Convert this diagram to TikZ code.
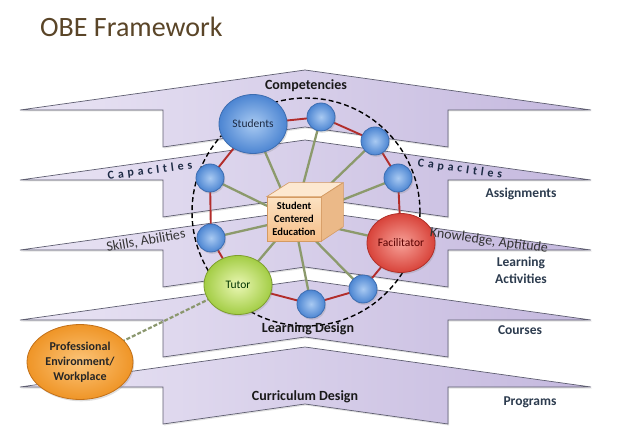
\documentclass[tikz,border=0pt]{standalone}
\usepackage{fontspec}
\setmainfont{Carlito}
\usetikzlibrary{shapes.geometric,shadows}
\definecolor{bandL}{HTML}{E9E4F4}
\definecolor{bandR}{HTML}{C4B8DE}
\definecolor{bandline}{HTML}{5E5E70}
\definecolor{titlec}{HTML}{5A4528}
\definecolor{slate}{HTML}{2C3B4E}
\definecolor{navy}{HTML}{1C2A44}
\definecolor{blueIn}{HTML}{A9CAF2}
\definecolor{blueOut}{HTML}{4C85D2}
\definecolor{blueLine}{HTML}{3D6DB0}
\definecolor{redIn}{HTML}{F7A198}
\definecolor{redOut}{HTML}{D8433A}
\definecolor{redLine}{HTML}{B0302A}
\definecolor{grnIn}{HTML}{EAF7B4}
\definecolor{grnOut}{HTML}{A3CD45}
\definecolor{grnLine}{HTML}{7E9F2E}
\definecolor{orIn}{HTML}{FCC57A}
\definecolor{orOut}{HTML}{EF9527}
\definecolor{orLine}{HTML}{C27018}
\definecolor{ring}{HTML}{B22D2B}
\definecolor{spoke}{HTML}{8C9A6C}
\definecolor{boxline}{HTML}{D49A62}
\definecolor{boxTop}{HTML}{FDE8D0}
\definecolor{boxFrontT}{HTML}{FCE2C2}
\definecolor{boxFrontB}{HTML}{F6BE88}
\definecolor{boxSide}{HTML}{EBB988}
\newcommand\lsp{\hspace{3.8pt}}
\newcommand\capword{C\lsp a\lsp p\lsp a\lsp c\lsp I\lsp t\lsp l\lsp e\lsp s}
\pgfdeclarelayer{bg}
\pgfdeclarelayer{lines}
\pgfsetlayers{bg,lines,main}
\begin{document}
\begin{tikzpicture}[x=1pt,y=-1pt,
  band/.style={draw=bandline, line width=0.7pt, left color=bandL, right color=bandR,
    drop shadow={opacity=0.22,shadow xshift=1pt,shadow yshift=-1.5pt}},
  nshadow/.style={drop shadow={opacity=0.25,shadow xshift=1.2pt,shadow yshift=-1.8pt}},
  smallball/.style={circle, draw=blueLine, line width=0.8pt, shading=radial,
    inner color=blueIn, outer color=blueOut, minimum size=28pt, inner sep=0pt, nshadow},
  bigball/.style={ellipse, line width=0.8pt, shading=radial, minimum width=68pt,
    minimum height=59pt, inner sep=0pt, nshadow, font=\fontsize{11.5}{13}\selectfont},
  ringline/.style={draw=ring, line width=1.9pt},
  spokeline/.style={draw=spoke, line width=2.3pt},
  bandlab/.style={anchor=base, font=\bfseries\fontsize{14}{16}\selectfont, text=black!90},
  sidelab/.style={anchor=base, font=\bfseries\fontsize{13.5}{17}\selectfont, text=slate, align=center},
  slantlab/.style={font=\fontsize{14}{16}\selectfont, text=black!80},
  caplab/.style={font=\bfseries\fontsize{12}{14}\selectfont, text=navy}
]
\useasboundingbox (0,0) rectangle (636,430);

% title
\node[anchor=base west, font=\fontsize{28}{32}\selectfont, text=titlec, inner sep=0pt] (title) at (40,37) {OBE Framework};

% bands
\begin{pgfonlayer}{bg}
\foreach \T in {110,180,250,320,387} {
  \path[band] (20,\T) -- (305,\T-40) -- (591,\T) -- (448,\T) -- (448,\T+37)
    -- (305,\T+17) -- (163,\T+37) -- (163,\T) -- cycle;
}
\end{pgfonlayer}

% centre box
\node[draw=boxline, line width=0.6pt, top color=boxFrontT, bottom color=boxFrontB,
  minimum width=54pt, minimum height=44pt, inner sep=0pt,
  font=\bfseries\fontsize{10.5}{12.7}\selectfont, align=center] (sce) at (294,219)
  {Student\\Centered\\Education};
\filldraw[fill=boxTop, draw=boxline, line width=0.6pt] (sce.north west) -- ++(22,-14) -- ++(54,0) -- (sce.north east) -- cycle;
\filldraw[fill=boxSide, draw=boxline, line width=0.6pt] (sce.north east) -- ++(22,-14) -- ++(0,44) -- (sce.south east) -- cycle;

% big nodes
\node[bigball, draw=blueLine, inner color=blueIn, outer color=blueOut, text=navy] (stu) at (253,124) {Students};
\node[bigball, draw=redLine, inner color=redIn, outer color=redOut, text=red!35!black] (fac) at (401,243) {Facilitator};
\node[bigball, draw=grnLine, inner color=grnIn, outer color=grnOut, text=green!20!black] (tut) at (238,285) {Tutor};

% small nodes
\node[smallball] (a) at (321,117) {};
\node[smallball] (b) at (375,141) {};
\node[smallball] (c) at (398,178) {};
\node[smallball] (g) at (363,289) {};
\node[smallball] (f) at (311,304) {};
\node[smallball] (e) at (211,238) {};
\node[smallball] (d) at (210,178) {};

% professional ellipse
\node[ellipse, draw=orLine, line width=0.8pt, shading=radial, inner color=orIn, outer color=orOut,
  minimum width=106pt, minimum height=75pt, inner sep=0pt, nshadow, align=center,
  font=\bfseries\fontsize{12}{15}\selectfont, text=black!85] (prof) at (80,362)
  {Professional\\Environment/\\Workplace};

% connectors
\begin{pgfonlayer}{lines}
\draw[black, line width=1.4pt, dash pattern=on 5pt off 3pt] (306,212) circle[radius=114];
\draw[ringline] (stu.center) -- (a.center) -- (b.center) -- (c.center) -- (fac.center)
  -- (g.center) -- (f.center) -- (tut.center) -- (e.center) -- (d.center) -- (stu.center);
\foreach \n in {stu,a,b,c,fac,g,f,tut,e,d}
  \draw[spokeline] (sce.center) -- (\n.center);
\draw[draw=spoke!90!gray, line width=2.2pt, dash pattern=on 4pt off 2pt] (tut.center) -- (prof.center);
\end{pgfonlayer}

% band labels
\node[bandlab] (lcomp) at (306,90) {Competencies};
\node[bandlab] (lld) at (308,332) {Learning Design};
\node[bandlab] (lcd) at (305,400) {Curriculum Design};
\node[sidelab] (lasg) at (521,197) {Assignments};
\node[sidelab] (lla) at (521,283) {Learning\\Activities};
\node[sidelab] (lcou) at (520,334) {Courses};
\node[sidelab] (lpro) at (530,405) {Programs};
\node[caplab, rotate=7] (capl) at (150,171) {\capword};
\node[caplab, rotate=-8] (capr) at (460,169) {\capword};
\node[slantlab, rotate=10] (skills) at (146,241) {Skills, Abilities};
\node[slantlab, rotate=-8, inner sep=1pt] (know) at (489,241) {Knowledge, Aptitude};
\end{tikzpicture}
\end{document}
